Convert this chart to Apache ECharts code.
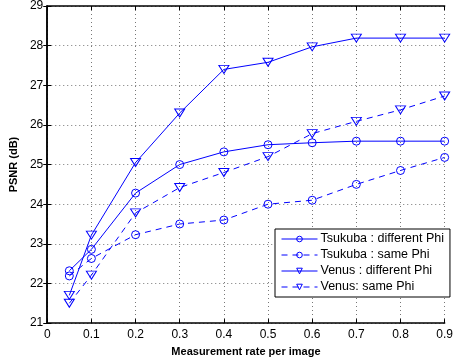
<!DOCTYPE html>
<html>
<head>
<meta charset="utf-8">
<script src="https://cdn.jsdelivr.net/npm/echarts@6/dist/echarts.min.js"></script>
<style>
  html, body { margin: 0; padding: 0; background: #fff; }
  #chart { width: 456px; height: 362px; }
</style>
</head>
<body>
<div id="chart"></div>
<script>
// measurement rates (x values)
const rates = [0.05, 0.1, 0.2, 0.3, 0.4, 0.5, 0.6, 0.7, 0.8, 0.9];

// PSNR (dB) per curve
const tsukubaDiff = [22.32, 22.86, 24.28, 25.0, 25.32, 25.5, 25.55, 25.59, 25.59, 25.59];
const tsukubaSame = [22.19, 22.63, 23.23, 23.5, 23.6, 24.0, 24.1, 24.5, 24.85, 25.18];
const venusDiff = [21.7, 23.22, 25.05, 26.3, 27.4, 27.58, 27.97, 28.19, 28.19, 28.19];
const venusSame = [21.5, 22.21, 23.78, 24.42, 24.8, 25.2, 25.78, 26.09, 26.38, 26.73];

const seriesNames = [
  'Tsukuba : different Phi',
  'Tsukuba : same Phi',
  'Venus : different Phi',
  'Venus: same Phi'
];

const blue = '#0000ff';
const font = 'Liberation Sans, Arial, sans-serif';

const pairs = ys => rates.map((r, i) => [r, ys[i]]);

const makeSeries = (name, ys, dashed, tri) => ({
  type: 'line',
  name: name,
  data: pairs(ys),
  xAxisIndex: 0,
  yAxisIndex: 0,
  symbol: tri ? 'triangle' : 'circle',
  symbolRotate: tri ? 180 : 0,
  symbolSize: tri ? [10, 8] : 8,
  showAllSymbol: true,
  lineStyle: {
    color: blue,
    width: 1,
    type: dashed ? [6, 5] : 'solid',
  },
  itemStyle: {
    color: 'rgba(0,0,0,0)',
    borderColor: blue,
    borderWidth: 1,
  },
  emphasis: {disabled: true},
});

const chart = echarts.init(document.getElementById('chart'));

const gridLine = {
  show: true,
  lineStyle: {color: '#777', type: [1, 3], width: 1},
};
const boxLine = {show: true, lineStyle: {color: '#000', width: 1.5}};
const inTick = {show: true, inside: true, length: 4, lineStyle: {color: '#000'}};

const option = {
  animation: false,
  grid: {left: 41, right: 7, top: 6, bottom: 34},
  xAxis: [
    {
      type: 'value',
      min: 0,
      max: 0.9,
      interval: 0.1,
      name: 'Measurement rate per image',
      nameLocation: 'middle',
      nameGap: 22,
      nameTextStyle: {fontFamily: font, fontSize: 11, fontWeight: 'bold', color: '#000'},
      axisLine: boxLine,
      axisTick: inTick,
      axisLabel: {fontFamily: font, fontSize: 12, color: '#000', margin: 6},
      splitLine: gridLine,
    },
    {
      type: 'value',
      position: 'top',
      min: 0,
      max: 0.9,
      interval: 0.1,
      axisLine: boxLine,
      axisTick: inTick,
      axisLabel: {show: false},
      splitLine: {show: false},
    },
  ],
  yAxis: [
    {
      type: 'value',
      min: 21,
      max: 29,
      interval: 1,
      name: 'PSNR (dB)',
      nameLocation: 'middle',
      nameGap: 25,
      nameTextStyle: {fontFamily: font, fontSize: 11, fontWeight: 'bold', color: '#000'},
      axisLine: boxLine,
      axisTick: inTick,
      axisLabel: {fontFamily: font, fontSize: 12, color: '#000', margin: 4},
      splitLine: gridLine,
    },
    {
      type: 'value',
      position: 'right',
      min: 21,
      max: 29,
      interval: 1,
      axisLine: boxLine,
      axisTick: inTick,
      axisLabel: {show: false},
      splitLine: {show: false},
    },
  ],
  legend: {
    show: true,
    orient: 'vertical',
    left: 275,
    top: 229,
    width: 169,
    padding: [3, 6, 3, 6],
    itemGap: 2,
    itemWidth: 36,
    itemHeight: 7,
    backgroundColor: '#fff',
    borderColor: '#000',
    borderWidth: 1,
    lineStyle: {width: 1},
    itemStyle: {borderWidth: 1},
    textStyle: {fontFamily: font, fontSize: 12.5, color: '#000', padding: [0, 0, 0, -2], lineHeight: 14},
    data: seriesNames,
  },
  series: [
    makeSeries(seriesNames[0], tsukubaDiff, false, false),
    makeSeries(seriesNames[1], tsukubaSame, true, false),
    makeSeries(seriesNames[2], venusDiff, false, true),
    makeSeries(seriesNames[3], venusSame, true, true),
  ],
};

chart.setOption(option);
</script>
</body>
</html>
